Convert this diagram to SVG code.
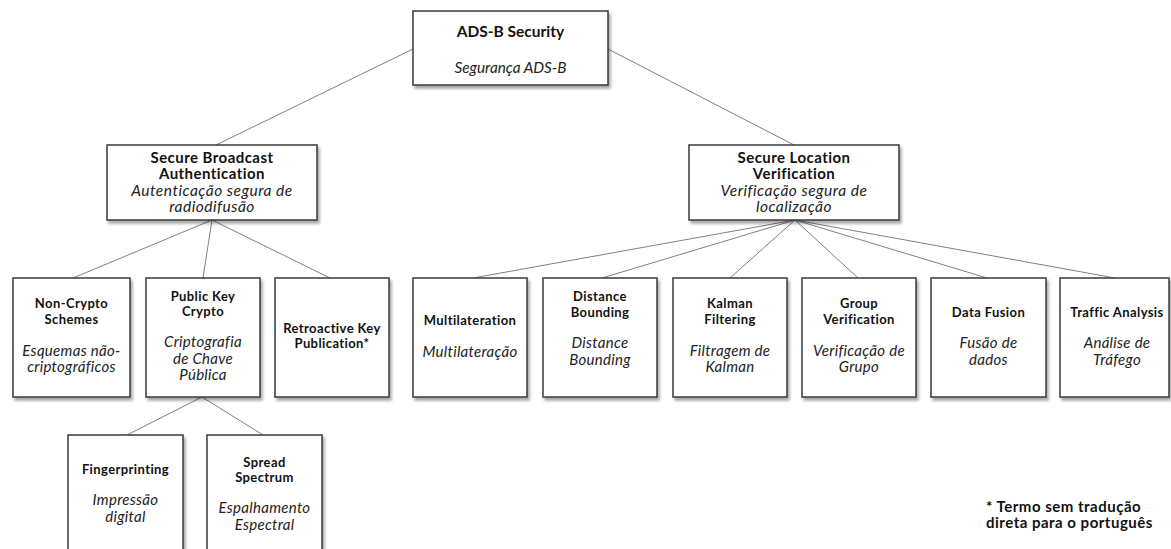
<svg xmlns="http://www.w3.org/2000/svg" width="1171" height="549" viewBox="0 0 1171 549">
  <defs>
    <filter id="shadow" x="-10%" y="-10%" width="125%" height="130%">
      <feDropShadow dx="2" dy="3" stdDeviation="1.6" flood-color="#000" flood-opacity="0.35"/>
    </filter>
    <style>
      .box { fill: #ffffff; stroke: #3a3a3a; stroke-width: 1.5; filter: url(#shadow); }
      .link { stroke: #808080; stroke-width: 1; fill: none; }
      text { font-family: Lato, "Open Sans", sans-serif; text-anchor: middle; }
      .t0 { font-size: 15.5px; font-weight: bold; fill: #111; }
      .i0 { font-size: 15.3px; font-style: italic; fill: #222; }
      .t1 { font-size: 15px; font-weight: bold; fill: #111; letter-spacing: 0.45px; }
      .i1 { font-size: 15.5px; font-style: italic; fill: #222; letter-spacing: 0.5px; }
      .t2 { font-size: 13px; font-weight: bold; fill: #111; letter-spacing: 0.4px; }
      .i2 { font-size: 15px; font-style: italic; fill: #222; letter-spacing: 0.3px; }
      .note { font-size: 15px; font-weight: bold; fill: #111; text-anchor: start; letter-spacing: 0.5px; }
    </style>
  </defs>
  <rect width="1171" height="549" fill="#ffffff"/>

  <!-- connectors -->
  <g id="connectors">
    <line class="link" x1="413" y1="49" x2="216" y2="145"/>
    <line class="link" x1="608" y1="49" x2="794" y2="145"/>
    <line class="link" x1="212" y1="220" x2="73" y2="278"/>
    <line class="link" x1="212" y1="220" x2="203" y2="278"/>
    <line class="link" x1="212" y1="220" x2="330" y2="278"/>
    <line class="link" x1="795" y1="220" x2="473" y2="278"/>
    <line class="link" x1="795" y1="220" x2="602" y2="278"/>
    <line class="link" x1="795" y1="220" x2="730" y2="278"/>
    <line class="link" x1="795" y1="220" x2="858" y2="278"/>
    <line class="link" x1="795" y1="220" x2="987" y2="278"/>
    <line class="link" x1="795" y1="220" x2="1115" y2="278"/>
    <line class="link" x1="202" y1="397" x2="127" y2="435"/>
    <line class="link" x1="202" y1="397" x2="263" y2="435"/>
  </g>

  <!-- root -->
  <g id="ads-b-security">
    <rect class="box" x="413" y="11" width="195" height="74"/>
    <text class="t0" x="510.5" y="37">ADS-B Security</text>
    <text class="i0" x="510.5" y="73">Segurança ADS-B</text>
  </g>

  <!-- second level -->
  <g id="secure-broadcast-authentication">
    <rect class="box" x="107" y="145" width="210" height="75"/>
    <text class="t1" x="212" y="163">Secure Broadcast</text>
    <text class="t1" x="212" y="179">Authentication</text>
    <text class="i1" x="212" y="195.5">Autenticação segura de</text>
    <text class="i1" x="212" y="212">radiodifusão</text>
  </g>
  <g id="secure-location-verification">
    <rect class="box" x="689" y="145" width="210" height="75"/>
    <text class="t1" x="794" y="163">Secure Location</text>
    <text class="t1" x="794" y="179">Verification</text>
    <text class="i1" x="794" y="195.5">Verificação segura de</text>
    <text class="i1" x="794" y="212">localização</text>
  </g>

  <!-- broadcast authentication branches -->
  <g id="non-crypto-schemes">
    <rect class="box" x="13" y="278" width="117" height="119"/>
    <text class="t2" x="71.5" y="308">Non-Crypto</text>
    <text class="t2" x="71.5" y="324">Schemes</text>
    <text class="i2" x="71.5" y="356">Esquemas não-</text>
    <text class="i2" x="71.5" y="372">criptográficos</text>
  </g>
  <g id="public-key-crypto">
    <rect class="box" x="146" y="278" width="114" height="119"/>
    <text class="t2" x="203" y="301">Public Key</text>
    <text class="t2" x="203" y="316">Crypto</text>
    <text class="i2" x="203" y="347">Criptografia</text>
    <text class="i2" x="203" y="363.5">de Chave</text>
    <text class="i2" x="203" y="380">Pública</text>
  </g>
  <g id="retroactive-key-publication">
    <rect class="box" x="275" y="278" width="114" height="119"/>
    <text class="t2" x="332" y="333">Retroactive Key</text>
    <text class="t2" x="332" y="348">Publication*</text>
  </g>

  <!-- location verification branches -->
  <g id="multilateration">
    <rect class="box" x="413" y="278" width="114" height="119"/>
    <text class="t2" x="470" y="325">Multilateration</text>
    <text class="i2" x="470" y="357">Multilateração</text>
  </g>
  <g id="distance-bounding">
    <rect class="box" x="543" y="278" width="114" height="119"/>
    <text class="t2" x="600" y="301">Distance</text>
    <text class="t2" x="600" y="317">Bounding</text>
    <text class="i2" x="600" y="348">Distance</text>
    <text class="i2" x="600" y="365">Bounding</text>
  </g>
  <g id="kalman-filtering">
    <rect class="box" x="673" y="278" width="114" height="119"/>
    <text class="t2" x="730" y="308">Kalman</text>
    <text class="t2" x="730" y="324">Filtering</text>
    <text class="i2" x="730" y="356">Filtragem de</text>
    <text class="i2" x="730" y="372">Kalman</text>
  </g>
  <g id="group-verification">
    <rect class="box" x="802" y="278" width="114" height="119"/>
    <text class="t2" x="859" y="308">Group</text>
    <text class="t2" x="859" y="324">Verification</text>
    <text class="i2" x="859" y="356">Verificação de</text>
    <text class="i2" x="859" y="372">Grupo</text>
  </g>
  <g id="data-fusion">
    <rect class="box" x="931" y="278" width="115" height="119"/>
    <text class="t2" x="988.5" y="317">Data Fusion</text>
    <text class="i2" x="988.5" y="348">Fusão de</text>
    <text class="i2" x="988.5" y="365">dados</text>
  </g>
  <g id="traffic-analysis">
    <rect class="box" x="1060" y="278" width="109" height="119"/>
    <text class="t2" x="1117" y="317">Traffic Analysis</text>
    <text class="i2" x="1117" y="348">Análise de</text>
    <text class="i2" x="1117" y="365">Tráfego</text>
  </g>

  <!-- public key crypto branches -->
  <g id="fingerprinting">
    <rect class="box" x="68" y="435" width="115" height="130"/>
    <text class="t2" x="125.5" y="474">Fingerprinting</text>
    <text class="i2" x="125.5" y="505">Impressão</text>
    <text class="i2" x="125.5" y="522">digital</text>
  </g>
  <g id="spread-spectrum">
    <rect class="box" x="207" y="435" width="115" height="130"/>
    <text class="t2" x="264.5" y="467">Spread</text>
    <text class="t2" x="264.5" y="482">Spectrum</text>
    <text class="i2" x="264.5" y="513">Espalhamento</text>
    <text class="i2" x="264.5" y="530">Espectral</text>
  </g>

  <!-- footnote -->
  <g id="footnote">
    <text class="note" x="986" y="511.5">* Termo sem tradução</text>
    <text class="note" x="986" y="527.5">direta para o português</text>
  </g>
</svg>
